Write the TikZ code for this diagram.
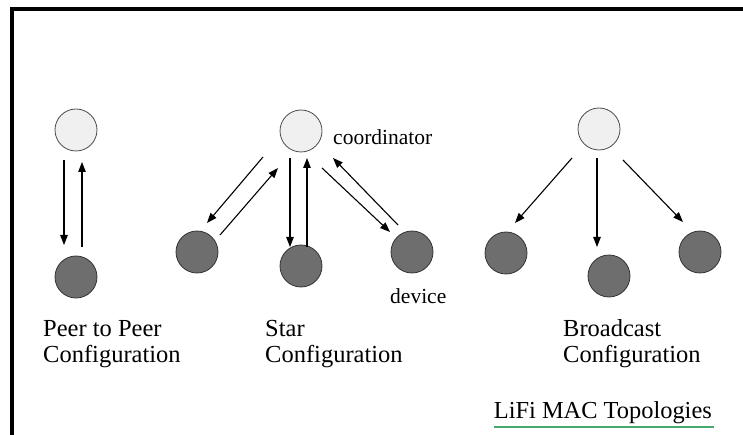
\documentclass[tikz,border=0pt]{standalone}
\usepackage{fontspec}
\setmainfont{Liberation Serif}
\usetikzlibrary{arrows.meta}
\definecolor{lightfill}{gray}{0.94}
\definecolor{darkfill}{gray}{0.43}
\definecolor{ulgreen}{RGB}{70,170,110}
\tikzset{
  coordnode/.style={circle, minimum size=42pt, inner sep=0pt, draw=black!70, line width=0.8pt, fill=lightfill},
  devnode/.style={circle, minimum size=42pt, inner sep=0pt, draw=black!80, line width=0.8pt, fill=darkfill},
  link/.style={-{Triangle[length=10pt,width=7.5pt]}, line width=1.1pt},
  caption/.style={anchor=base west, inner sep=0pt, font=\fontsize{24.5}{25}\selectfont},
  tag/.style={anchor=base west, inner sep=0pt, font=\fontsize{21.5}{22}\selectfont}
}
\begin{document}
\begin{tikzpicture}[x=1pt, y=-1pt]
\useasboundingbox (0,0) rectangle (743,435);
\begin{scope}
\clip (0,0) rectangle (743,435);
% outer frame (left and top edges)
\draw[line width=4pt] (12,440) -- (12,9) -- (750,9);
\end{scope}

% ---- peer to peer ----
\node[coordnode] (pt) at (76,130) {};
\node[devnode]   (pb) at (76,277) {};
\draw[link] ([shift={(-12,30)}]pt.center) -- ([shift={(-12,-32)}]pb.center);
\draw[link] ([shift={(6,-30)}]pb.center) -- ([shift={(6,32)}]pt.center);
\node[caption] (p2p1) at (43,336) {Peer to Peer};
\node[caption] (p2p2) at (43,362) {Configuration};

% ---- star ----
\node[coordnode] (st) at (301,131) {};
\node[devnode]   (sl) at (197,252) {};
\node[devnode]   (sm) at (301,266) {};
\node[devnode]   (sr) at (412,252) {};
\draw[link] ([shift={(-38,26)}]st.center) -- ([shift={(10,-29)}]sl.center);
\draw[link] ([shift={(23,-17)}]sl.center) -- ([shift={(-23,37)}]st.center);
\draw[link] ([shift={(-11,27)}]st.center) -- ([shift={(-11,-19)}]sm.center);
\draw[link] ([shift={(6,-19)}]sm.center) -- ([shift={(6,27)}]st.center);
\draw[link] ([shift={(21,37)}]st.center) -- ([shift={(-22,-20)}]sr.center);
\draw[link] ([shift={(-14,-27)}]sr.center) -- ([shift={(32,27)}]st.center);
\node[tag] (coordlbl) at (333,145) {coordinator};
\node[tag] (devlbl) at (390,303) {device};
\node[caption] (star1) at (265,336) {Star};
\node[caption] (star2) at (265,362) {Configuration};

% ---- broadcast ----
\node[coordnode] (bt) at (599,129) {};
\node[devnode]   (bl) at (506,253) {};
\node[devnode]   (bm) at (609,276) {};
\node[devnode]   (br) at (700,252) {};
\draw[link] ([shift={(-27,29)}]bt.center) -- ([shift={(9,-30)}]bl.center);
\draw[link] ([shift={(-2,29)}]bt.center) -- ([shift={(-12,-29)}]bm.center);
\draw[link] ([shift={(24,31)}]bt.center) -- ([shift={(-17,-30)}]br.center);
\node[caption] (bc1) at (563,336) {Broadcast};
\node[caption] (bc2) at (563,362) {Configuration};

% ---- title ----
\node[anchor=base east, inner sep=0pt, font=\fontsize{24.4}{25}\selectfont] (title) at (712,418) {LiFi MAC Topologies};
\draw[ulgreen, line width=1.4pt] ([shift={(0,9)}]title.base west) -- ([shift={(2,9)}]title.base east);
\end{tikzpicture}
\end{document}
